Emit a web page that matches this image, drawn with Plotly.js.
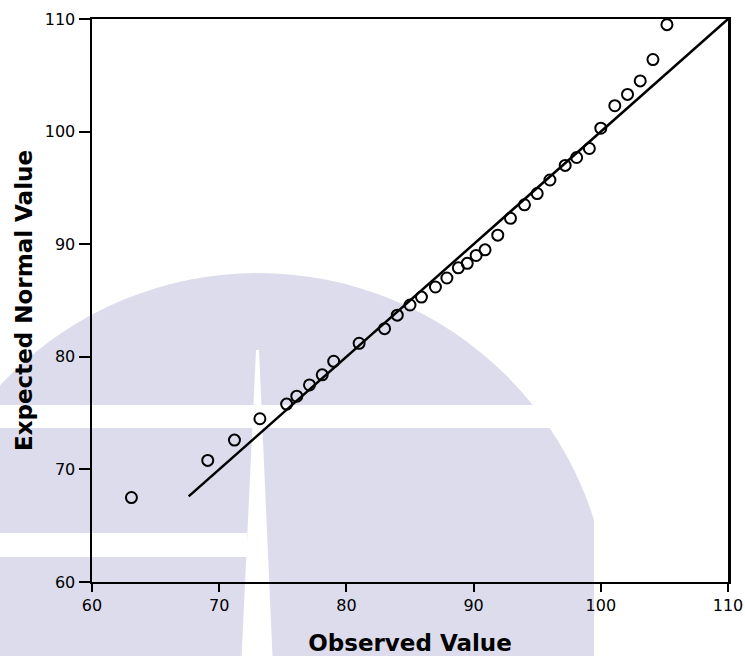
<!DOCTYPE html>
<html>
<head>
<meta charset="utf-8">
<script src="https://cdn.plot.ly/plotly-3.0.1.min.js"></script>
<style>
  html, body { margin: 0; padding: 0; background: #ffffff; }
  #chart { width: 745px; height: 656px; }
</style>
</head>
<body>
<div id="chart"></div>
<script>
// Normal Q-Q plot: observed values against expected normal values
const observed = [63.1, 69.1, 71.2, 73.2, 75.3, 76.1, 77.1, 78.1, 79.0, 81.0,
                  83.0, 84.0, 85.0, 85.9, 87.0, 87.9, 88.8, 89.5, 90.2, 90.9,
                  91.9, 92.9, 94.0, 95.0, 96.0, 97.2, 98.1, 99.1, 100.0, 101.1,
                  102.1, 103.1, 104.1, 105.2];
const expected = [67.5, 70.8, 72.6, 74.5, 75.8, 76.5, 77.5, 78.4, 79.6, 81.2,
                  82.5, 83.7, 84.6, 85.3, 86.2, 87.0, 87.9, 88.3, 89.0, 89.5,
                  90.8, 92.3, 93.5, 94.5, 95.7, 97.0, 97.7, 98.5, 100.3, 102.3,
                  103.3, 104.5, 106.4, 109.5];

// reference line: expected = observed
const refX = [67.6, 110];
const refY = [67.6, 110];

const tickValues = [60, 70, 80, 90, 100, 110];
const tickLabels = ['60', '70', '80', '90', '100', '110'];

// plot-area geometry in pixels (used to place the background emblem)
const W = 745, H = 656;
const M = { l: 92, r: 17, t: 19, b: 74 };
const PW = W - M.l - M.r, PH = H - M.t - M.b;
const px = x => (x - M.l) / PW;
const py = y => (H - M.b - y) / PH;

const lavender = '#dddcec';
const rectShape = (x0, x1, yTop, yBottom, color) => ({
  type: 'rect', xref: 'paper', yref: 'paper', layer: 'below',
  x0: px(x0), x1: px(x1), y0: py(yBottom), y1: py(yTop),
  fillcolor: color, line: { width: 0 }
});

const emblem = [
  // large disc
  { type: 'circle', xref: 'paper', yref: 'paper', layer: 'below',
    x0: px(258 - 352), x1: px(258 + 352), y0: py(625 + 352), y1: py(625 - 352),
    fillcolor: lavender, line: { width: 0 } },
  // straight right edge of the disc
  rectShape(594, 780, 440, 690, '#ffffff'),
  // horizontal bars of the cross
  rectShape(-20, 780, 405, 428, '#ffffff'),
  rectShape(-20, 247, 533, 557, '#ffffff'),
  // tapering vertical bar
  { type: 'path', xref: 'paper', yref: 'paper', layer: 'below',
    path: 'M ' + px(256) + ',' + py(350) + ' L ' + px(259) + ',' + py(350) +
          ' L ' + px(274) + ',' + py(690) + ' L ' + px(240) + ',' + py(690) + ' Z',
    fillcolor: '#ffffff', line: { width: 0 } }
];

const traces = [
  {
    x: refX, y: refY, type: 'scatter', mode: 'lines',
    line: { color: '#000000', width: 2.5 },
    hoverinfo: 'skip', showlegend: false
  },
  {
    x: observed, y: expected, type: 'scatter', mode: 'markers',
    marker: { symbol: 'circle-open', size: 11, color: '#000000',
              line: { color: '#000000', width: 2 } },
    showlegend: false
  }
];

const tickFont = { family: 'DejaVu Sans, sans-serif', size: 16, color: '#000000' };
const titleFont = { family: 'DejaVu Sans, sans-serif', size: 23, color: '#000000', weight: 'bold' };

const layout = {
  width: W, height: H,
  margin: M,
  paper_bgcolor: '#ffffff',
  plot_bgcolor: 'rgba(0,0,0,0)',
  showlegend: false,
  shapes: emblem,
  xaxis: {
    range: [60, 110], tickmode: 'array', tickvals: tickValues, ticktext: tickLabels,
    ticks: 'outside', ticklen: 8, tickwidth: 2, tickcolor: '#000000',
    showline: true, linecolor: '#000000', linewidth: 2, mirror: true,
    showgrid: false, zeroline: false, tickfont: tickFont,
    title: { text: 'Observed Value', font: titleFont, standoff: 21 }
  },
  yaxis: {
    range: [60, 110], tickmode: 'array', tickvals: tickValues, ticktext: tickLabels,
    ticks: 'outside', ticklen: 11, tickwidth: 2, tickcolor: '#000000',
    showline: true, linecolor: '#000000', linewidth: 2.5, mirror: true,
    showgrid: false, zeroline: false, tickfont: tickFont,
    title: { text: 'Expected Normal Value', font: titleFont, standoff: 6 }
  }
};

Plotly.newPlot('chart', traces, layout, { displayModeBar: false, staticPlot: true });
</script>
</body>
</html>
